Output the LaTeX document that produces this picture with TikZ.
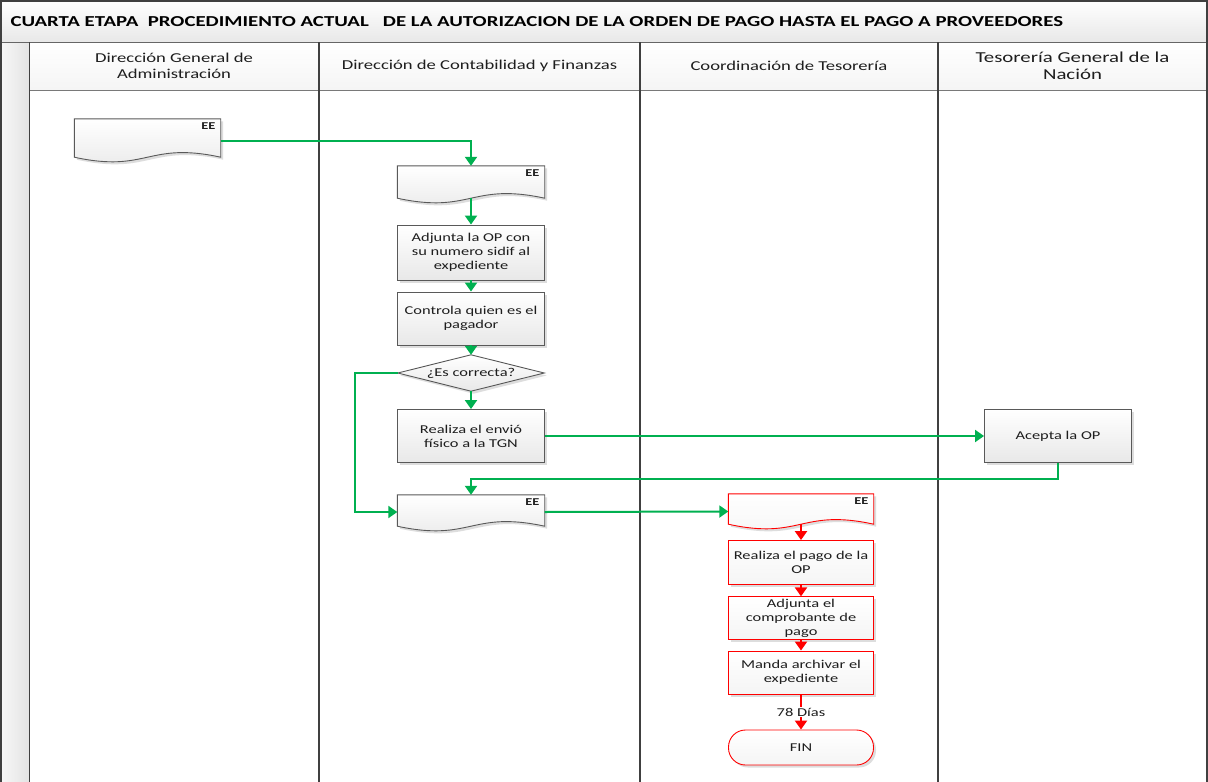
\documentclass[tikz,border=0pt]{standalone}
\usepackage{fontspec}
\setmainfont{Carlito}[FakeStretch=1.37]
\usetikzlibrary{arrows.meta,shadows,calc}

\definecolor{flowgreen}{RGB}{0,176,80}
\definecolor{flowred}{RGB}{255,0,0}
\definecolor{lanegray}{RGB}{64,64,64}
\definecolor{boxgray}{RGB}{89,89,89}
\definecolor{inktext}{RGB}{30,30,30}

\newcommand{\fsz}[2]{\fontsize{#1}{#2}\selectfont}

\pgfdeclarelayer{lanes}
\pgfdeclarelayer{shapes}
\pgfsetlayers{lanes,shapes,main}

\tikzset{
  softshadow/.style={drop shadow={shadow xshift=2.5pt, shadow yshift=-2.5pt, opacity=0.22, fill=black!60}},
  lanehead/.style={align=center, text=inktext, font=\fsz{13.6}{16.5}},
  procbox/.style={rectangle, draw=boxgray, line width=0.9pt, top color=white, bottom color=black!9,
    softshadow, align=center, text=inktext, font=\fsz{12}{14}, inner sep=2pt},
  redbox/.style={procbox, draw=flowred, bottom color=black!4},
  docbox/.style={rectangle, draw=none, inner sep=0pt,
    label={[anchor=north east, xshift=-5pt, yshift=-4pt, inner sep=0pt, text=inktext, font=\fsz{10.5}{12}\bfseries]north east:EE}},
  docshape/.style={draw=boxgray, line width=0.9pt, top color=white, bottom color=black!9, softshadow},
  reddoc/.style={docshape, draw=flowred, bottom color=black!4},
  gflow/.style={draw=flowgreen, line width=2pt, -{Triangle[length=9pt,width=12pt]}},
  rflow/.style={draw=flowred, line width=2.4pt, -{Triangle[length=9pt,width=12pt]}},
}

% document symbol with a wavy lower edge, drawn behind the node's text
\newcommand{\docoutline}[2]{%
  \begin{pgfonlayer}{shapes}
    \path[#2] (#1.north west) -- (#1.north east) -- (#1.south east)
      .. controls ([yshift=16pt]#1.south) and ([yshift=-16pt]#1.south) .. (#1.south west) -- cycle;
  \end{pgfonlayer}}

\begin{document}
\begin{tikzpicture}[x=1pt, y=-1pt]
\useasboundingbox (0,0) rectangle (1208,782);

% ---------- pool frame ----------
\begin{pgfonlayer}{lanes}
  \fill[white] (0,0) rectangle (1208,782);
  \shade[top color=white, bottom color=black!9] (1,1) rectangle (1207,42);
  \shade[left color=black!3, right color=black!11] (1,42) rectangle (29.5,782);
  \shade[top color=white, bottom color=black!4] (29.5,42) rectangle (1207,90);
  \draw[lanegray!70, line width=0.8pt] (29.5,90) -- (1207,90);
  \draw[lanegray!80, line width=1pt] (1,42) -- (1207,42);
  \foreach \lx in {29.5,319,640,938}
    \draw[lanegray, line width=1.6pt] (\lx,42) -- (\lx,782);
  \draw[lanegray, line width=2pt] (1,782) -- (1,1) -- (1207,1) -- (1207,782);
\end{pgfonlayer}

\node[anchor=west, text=black, font=\fsz{15.2}{18}\bfseries] (title) at (7,22)
  {CUARTA ETAPA\ \ PROCEDIMIENTO ACTUAL\ \ \ DE LA AUTORIZACION DE LA ORDEN DE PAGO HASTA EL PAGO A PROVEEDORES};

\node[lanehead] (h1) at (174,66) {Dirección General de\\Administración};
\node[lanehead] (h2) at (479.5,66) {Dirección de Contabilidad y Finanzas};
\node[lanehead] (h3) at (789,66) {Coordinación de Tesorería};
\node[lanehead, font=\fsz{15.2}{17}] (h4) at (1072.5,66) {Tesorería General de la\\Nación};

% ---------- Dirección General de Administración ----------
\node[docbox, minimum width=146pt, minimum height=38pt] (d1) at (147.5,138) {};
\docoutline{d1}{docshape}

% ---------- Dirección de Contabilidad y Finanzas ----------
\node[docbox, minimum width=147pt, minimum height=32pt] (d2) at (471,182) {};
\docoutline{d2}{docshape}
\node[procbox, minimum width=147pt, minimum height=55pt] (b1) at (471,252.5)
  {Adjunta la OP con\\su numero sidif al\\expediente};
\node[procbox, minimum width=147pt, minimum height=53pt] (b2) at (471,318.5)
  {Controla quien es el\\pagador};
\node[rectangle, draw=none, minimum width=146pt, minimum height=36pt, inner sep=0pt,
      text=inktext, font=\fsz{12}{14}] (dec) at (471,373) {¿Es correcta?};
\begin{pgfonlayer}{shapes}
  \path[docshape] (dec.west) -- (dec.north) -- (dec.east) -- (dec.south) -- cycle;
\end{pgfonlayer}
\node[procbox, minimum width=147pt, minimum height=53pt] (b3) at (471,436)
  {Realiza el envió\\físico a la TGN};
\node[docbox, minimum width=147pt, minimum height=31pt] (d3) at (471,510.5) {};
\docoutline{d3}{docshape}

% ---------- Tesorería General de la Nación ----------
\node[procbox, minimum width=147pt, minimum height=53pt] (tgn) at (1058,436) {Acepta la OP};

% ---------- Coordinación de Tesorería ----------
\node[docbox, minimum width=145pt, minimum height=30pt] (d4) at (801,509) {};
\docoutline{d4}{reddoc}
\node[redbox, minimum width=145pt, minimum height=44pt] (r1) at (801,562.5)
  {Realiza el pago de la\\OP};
\node[redbox, minimum width=145pt, minimum height=43pt] (r2) at (801,618.3)
  {Adjunta el\\comprobante de\\pago};
\node[redbox, minimum width=145pt, minimum height=43pt] (r3) at (801,672.5)
  {Manda archivar el\\expediente};
\node[redbox, rounded corners=17pt, minimum width=145pt, minimum height=35pt] (fin) at (801,747.5) {FIN};

% ---------- connectors ----------
\draw[gflow] ([yshift=-3pt]d1.east) -| (d2.north);
\draw[gflow] (d2.south) -- (b1.north);
\draw[gflow] (b1.south) -- (b2.north);
\draw[gflow] (b2.south) -- (dec.north);
\draw[gflow] (dec.south) -- (b3.north);
\coordinate (loopleft) at (355,373);
\draw[gflow] (dec.west) -- (loopleft) |- ([yshift=-1.5pt]d3.west);
\draw[gflow] (b3.east) -- (tgn.west);
\coordinate (backturn) at (471,479);
\draw[gflow] (tgn.south) |- (backturn) -- (d3.north);
\draw[gflow] ([yshift=-1.5pt]d3.east) -- ([yshift=-2.5pt]d4.west);

\draw[rflow] (d4.south) -- (r1.north);
\draw[rflow] (r1.south) -- (r2.north);
\draw[rflow] (r2.south) -- (r3.north);
\draw[rflow] (r3.south) -- (fin.north)
  node[midway, fill=white, inner sep=1pt, text=inktext, font=\fsz{12}{14}] (days) {78 Días};
\end{tikzpicture}
\end{document}
